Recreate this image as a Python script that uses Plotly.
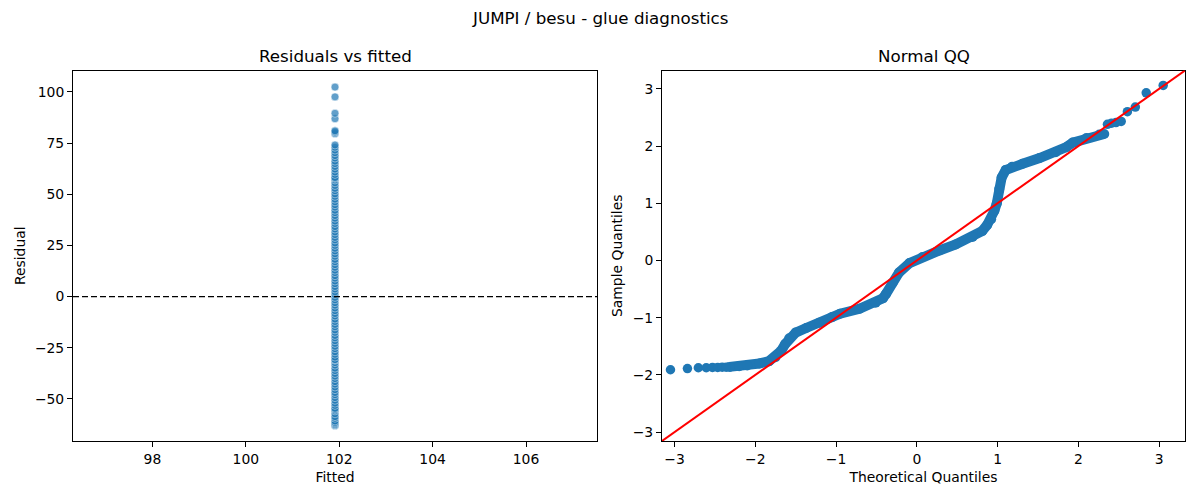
import plotly.graph_objects as go

# ---------------- data ----------------
fitted_value = 101.91

residuals = [
    -63.1, -62.6, -62.0, -61.5, -60.8, -59.5, -58.7, -57.3, -55.9, -55.2, -54.6, -53.2,
    -52.1, -50.7, -49.4, -48.0, -46.9, -45.5, -44.2, -42.8, -41.6, -40.1, -38.9,
    -37.6, -36.2, -35.0, -33.5, -32.3, -31.1, -30.8, -29.6, -28.2, -27.0, -25.5,
    -24.3, -22.9, -21.6, -20.2, -19.0, -17.5, -16.3, -14.8, -13.6, -12.2, -11.0,
    -9.5, -8.3, -6.9, -5.6, -4.2, -3.0, -1.6, -0.4, 1.0, 2.3, 3.7, 4.9, 6.3, 7.6,
    9.0, 10.2, 11.7, 12.9, 14.3, 15.6, 17.0, 18.2, 19.7, 20.9, 22.3, 23.6, 25.0,
    26.2, 27.7, 28.9, 30.3, 31.6, 33.0, 34.2, 35.7, 36.9, 38.3, 39.6, 41.0, 42.2,
    43.7, 44.9, 46.3, 47.6, 49.0, 50.2, 51.7, 52.9, 54.3, 55.6, 57.0, 57.8, 58.2,
    59.7, 60.9, 62.3, 63.6, 65.0, 66.2, 67.7, 68.9, 70.3, 71.6, 73.0, 74.1,
    79.6, 80.4, 81.0, 86.9, 89.6, 97.6, 102.4,
]

qq_low_theoretical = [-3.05, -2.84, -2.705, -2.607, -2.53, -2.465, -2.41, -2.36]
qq_low_sample = [-1.91, -1.89, -1.875, -1.875, -1.87, -1.87, -1.865, -1.865]

qq_band_theoretical = [
    -2.32, -2.2, -2.1, -1.95, -1.83, -1.75, -1.68, -1.63, -1.58, -1.50, -1.37,
    -1.21, -1.05, -0.95, -0.71, -0.51, -0.42, -0.38, -0.30, -0.22, -0.09, 0.07,
    0.28, 0.48, 0.69, 0.81, 0.87, 0.92, 0.96, 0.99, 1.02, 1.05, 1.10, 1.18, 1.31,
    1.52, 1.72, 1.85, 1.93, 2.10, 2.26, 2.32,
]
qq_band_sample = [
    -1.86, -1.85, -1.835, -1.80, -1.76, -1.69, -1.58, -1.46, -1.36, -1.26, -1.18,
    -1.09, -0.99, -0.93, -0.845, -0.74, -0.66, -0.58, -0.39, -0.21, -0.045, 0.06,
    0.175, 0.28, 0.41, 0.515, 0.62, 0.72, 0.87, 1.0, 1.25, 1.45, 1.58, 1.64, 1.69,
    1.79, 1.89, 1.98, 2.06, 2.14, 2.20, 2.21,
]

qq_high_theoretical = [2.36, 2.41, 2.465, 2.53, 2.607, 2.705, 2.84, 3.05]
qq_high_sample = [2.38, 2.40, 2.41, 2.43, 2.60, 2.68, 2.93, 3.06]

left_x_range = [96.30, 107.52]
left_y_range = [-70.6, 110.5]
qq_range = [-3.155, 3.32]

left_x_ticks = [98, 100, 102, 104, 106]
left_y_ticks = [-50, -25, 0, 25, 50, 75, 100]
qq_ticks = [-3, -2, -1, 0, 1, 2, 3]

# ---------------- figure ----------------
FONT = "DejaVu Sans"
BLUE = "#1f77b4"
OFF = 8            # page body margin of the browser
W, H = 1200 - OFF, 500 - OFF

def px_x(p):
    return (p - OFF) / W

def px_y(p):
    return 1 - (p - OFF) / H

fig = go.Figure()

fig.add_trace(go.Scatter(
    x=[fitted_value] * len(residuals), y=residuals, mode="markers",
    marker=dict(size=8, color=BLUE, opacity=0.7, line=dict(color="white", width=0.6)),
    xaxis="x", yaxis="y", showlegend=False, hoverinfo="skip",
))

fig.add_trace(go.Scatter(
    x=qq_band_theoretical, y=qq_band_sample, mode="lines+markers",
    line=dict(color=BLUE, width=10), marker=dict(size=10, color=BLUE),
    xaxis="x2", yaxis="y2", showlegend=False, hoverinfo="skip",
))
fig.add_trace(go.Scatter(
    x=qq_low_theoretical + qq_high_theoretical, y=qq_low_sample + qq_high_sample,
    mode="markers", marker=dict(size=9.5, color=BLUE),
    xaxis="x2", yaxis="y2", showlegend=False, hoverinfo="skip",
))

axis_common = dict(
    showgrid=False, zeroline=False, showline=True, linecolor="black", linewidth=1,
    mirror=True, ticks="outside", ticklen=5, tickwidth=1, tickcolor="black",
    tickfont=dict(family=FONT, size=13.9, color="black"),
)

dom_y = [px_y(441), px_y(70.5)]

fig.update_layout(
    width=W, height=H,
    margin=dict(l=0, r=0, t=0, b=0),
    paper_bgcolor="white", plot_bgcolor="white",
    font=dict(family=FONT, color="black"),
    xaxis=dict(domain=[px_x(73), px_x(597)], range=left_x_range, tickvals=left_x_ticks,
               anchor="y", title=dict(text="Fitted", font=dict(family=FONT, size=13.9), standoff=6),
               **axis_common),
    yaxis=dict(domain=dom_y, range=left_y_range, tickvals=left_y_ticks, anchor="x",
               title=dict(text="Residual", font=dict(family=FONT, size=13.9), standoff=6),
               **axis_common),
    xaxis2=dict(domain=[px_x(662), px_x(1185)], range=qq_range, tickvals=qq_ticks,
                anchor="y2", title=dict(text="Theoretical Quantiles", font=dict(family=FONT, size=13.9), standoff=6),
                **axis_common),
    yaxis2=dict(domain=dom_y, range=qq_range, tickvals=qq_ticks, anchor="x2",
                title=dict(text="Sample Quantiles", font=dict(family=FONT, size=13.9), standoff=6),
                **axis_common),
    shapes=[
        dict(type="line", xref="x domain", yref="y", x0=0, x1=1, y0=0, y1=0,
             line=dict(color="black", width=1.2, dash="6px,3px"), layer="above"),
        dict(type="line", xref="x2", yref="y2", x0=qq_range[0], y0=qq_range[0],
             x1=qq_range[1], y1=qq_range[1], line=dict(color="red", width=2), layer="above"),
    ],
    annotations=[
        dict(text="JUMPI / besu - glue diagnostics", xref="paper", yref="paper",
             x=px_x(600), y=px_y(18), xanchor="center", yanchor="middle", showarrow=False,
             font=dict(family=FONT, size=16.7, color="black")),
        dict(text="Residuals vs fitted", xref="paper", yref="paper",
             x=px_x(335), y=px_y(56), xanchor="center", yanchor="middle", showarrow=False,
             font=dict(family=FONT, size=16.7, color="black")),
        dict(text="Normal QQ", xref="paper", yref="paper",
             x=px_x(923.5), y=px_y(56), xanchor="center", yanchor="middle", showarrow=False,
             font=dict(family=FONT, size=16.7, color="black")),
    ],
)

fig.write_html("out.html")
